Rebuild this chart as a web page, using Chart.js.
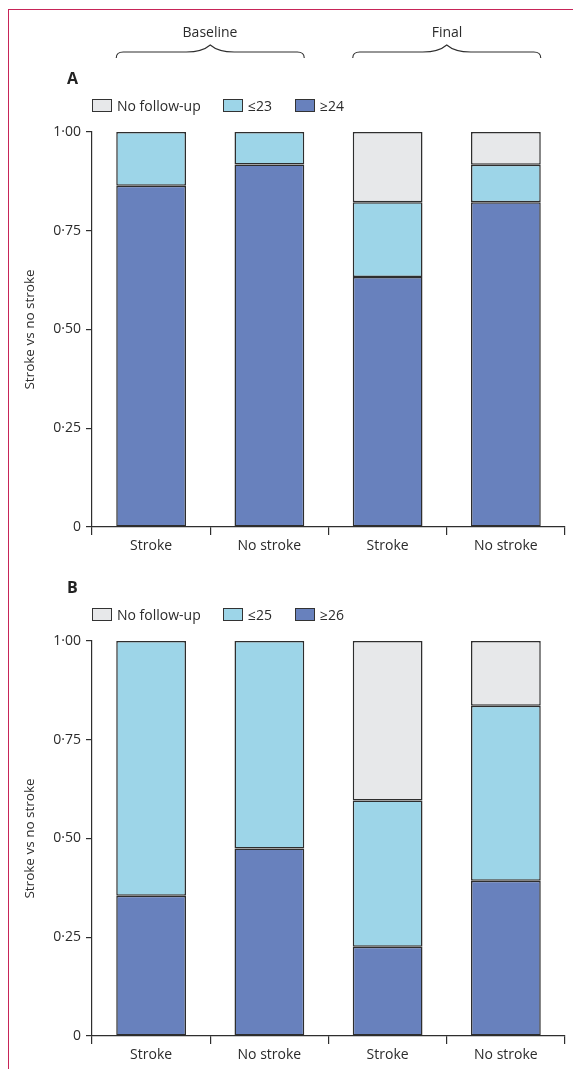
<!DOCTYPE html>
<html>
<head>
<meta charset="utf-8">
<script src="https://cdn.jsdelivr.net/npm/chart.js@4/dist/chart.umd.min.js"></script>
<style>
  body { margin: 0; background: #fff; font-family: 'Open Sans', sans-serif; color: #2b2b2b; }
  #page { position: relative; width: 573px; height: 1069px; overflow: hidden; }
  #frame { position: absolute; left: 8px; top: 9px; right: -2px; bottom: -2px;
           border-left: 1.5px solid #c72458; border-top: 1.5px solid #c72458; }
  canvas { position: absolute; left: 0; }
  .panel { position: absolute; left: 67px; font-weight: bold; font-size: 16px; line-height: 16px; color: #222; }
  .head { position: absolute; font-size: 14px; line-height: 16px; transform: translateX(-50%); }
  .lg { position: absolute; font-size: 14px; line-height: 14px; white-space: nowrap; }
  .lg i { display: inline-block; width: 18px; height: 11px; border: 1px solid #333;
          vertical-align: -1px; margin-right: 5px; }
</style>
</head>
<body>
<div id="page">
  <div id="frame"></div>
  <canvas id="chartA" width="573" height="560" style="top:0"></canvas>
  <canvas id="chartB" width="573" height="560" style="top:509px"></canvas>
  <div class="head" style="left:210px; top:24px">Baseline</div>
  <div class="head" style="left:447px; top:24px">Final</div>
  <div class="panel" style="top:70px">A</div>
  <div class="panel" style="top:579px">B</div>
  <div id="legendA"></div>
  <div id="legendB"></div>
</div>
<script>
const categories = ['Stroke', 'No stroke', 'Stroke', 'No stroke'];
const yTickLabels = ['0', '0·25', '0·50', '0·75', '1·00'];

// panel A
const aLabels = ['No follow-up', '≤23', '≥24'];
const aNoFollow = [null, null, 0.178, 0.083];
const aLow = [0.136, 0.082, 0.189, 0.095];
const aHigh = [0.864, 0.918, 0.633, 0.822];

// panel B
const bLabels = ['No follow-up', '≤25', '≥26'];
const bNoFollow = [null, null, 0.404, 0.164];
const bLow = [0.645, 0.525, 0.370, 0.443];
const bHigh = [0.355, 0.475, 0.226, 0.393];

const colours = ['#e7e8ea', '#9dd5e8', '#6881bd'];
const ink = '#2e2e2e';
const font = 'Open Sans';

function legend(id, labels, top) {
    const lefts = [92, 223, 295];
    let html = '';
    labels.forEach((l, i) => {
        html += '<div class="lg" style="left:' + lefts[i] + 'px; top:' + top + 'px">' +
            '<i style="background:' + colours[i] + '"></i>' + l + '</div>';
    });
    document.getElementById(id).innerHTML = html;
}

function bar(label, data, colour) {
    return {
        label: label,
        data: data,
        backgroundColor: colour,
        borderColor: ink,
        borderWidth: 1.5,
        borderSkipped: false,
        barPercentage: 0.59,
        categoryPercentage: 1
    };
}

const braces = {
    id: 'braces',
    afterDraw(chart) {
        const ctx = chart.ctx;
        const bars = chart.getDatasetMeta(0).data;
        const y = 52;
        ctx.save();
        ctx.strokeStyle = ink;
        ctx.lineWidth = 1.1;
        [[0, 1], [2, 3]].forEach(([a, b]) => {
            const x0 = bars[a].x - bars[a].width / 2;
            const x1 = bars[b].x + bars[b].width / 2;
            const m = (x0 + x1) / 2;
            ctx.beginPath();
            ctx.moveTo(x0, y + 6);
            ctx.quadraticCurveTo(x0, y, x0 + 7, y);
            ctx.lineTo(m - 24, y);
            ctx.quadraticCurveTo(m - 8, y, m, y - 7);
            ctx.quadraticCurveTo(m + 8, y, m + 24, y);
            ctx.lineTo(x1 - 7, y);
            ctx.quadraticCurveTo(x1, y, x1, y + 6);
            ctx.stroke();
        });
        ctx.restore();
    }
};

function makeChart(id, labels, noFollow, low, high, plugins) {
    return new Chart(document.getElementById(id), {
        type: 'bar',
        data: {
            labels: categories,
            datasets: [
                bar(labels[2], high, colours[2]),
                bar(labels[1], low, colours[1]),
                bar(labels[0], noFollow, colours[0])
            ]
        },
        options: {
            responsive: false,
            animation: false,
            devicePixelRatio: 1,
            layout: { padding: { top: 132, right: 8, left: 0, bottom: 0 } },
            plugins: { legend: { display: false }, tooltip: { enabled: false } },
            scales: {
                x: {
                    stacked: true,
                    grid: { offset: true, drawOnChartArea: false, tickLength: 8, color: ink, lineWidth: 1.2 },
                    border: { color: ink, width: 1.2 },
                    ticks: { color: '#2b2b2b', font: { family: font, size: 14 }, padding: 3 },
                    afterFit(scale) { scale.height = 33; }
                },
                y: {
                    stacked: true,
                    min: 0,
                    max: 1,
                    grid: { drawOnChartArea: false, tickLength: 6, color: ink, lineWidth: 1.2 },
                    border: { color: ink, width: 1.2 },
                    ticks: {
                        stepSize: 0.25,
                        color: '#2b2b2b',
                        font: { family: font, size: 14 },
                        padding: 5,
                        callback: (v, i) => yTickLabels[i]
                    },
                    title: {
                        display: true,
                        text: 'Stroke vs no stroke',
                        color: '#2b2b2b',
                        font: { family: font, size: 13.5 },
                        padding: { top: 22, bottom: 0 }
                    },
                    afterFit(scale) { scale.width = 92; }
                }
            }
        },
        plugins: plugins
    });
}

legend('legendA', aLabels, 99);
legend('legendB', bLabels, 608);
makeChart('chartA', aLabels, aNoFollow, aLow, aHigh, [braces]);
makeChart('chartB', bLabels, bNoFollow, bLow, bHigh, []);
</script>
</body>
</html>
